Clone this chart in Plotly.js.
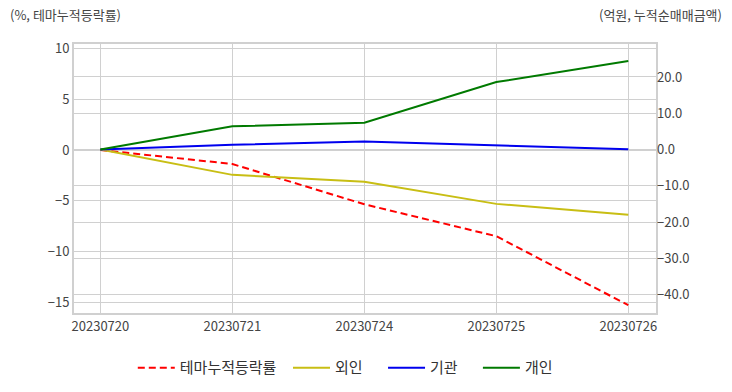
<!DOCTYPE html>
<html>
<head>
<meta charset="utf-8">
<script src="https://cdn.plot.ly/plotly-3.0.1.min.js"></script>
<style>html,body{margin:0;padding:0;background:#fff;}#chart{width:732px;height:392px;}</style>
</head>
<body>
<div id="chart"></div>
<script>
const dates = ["20230720", "20230721", "20230724", "20230725", "20230726"];
const themeReturn = [0, -1.38, -5.35, -8.5, -15.3];
const foreign = [0, -7.0, -8.9, -15.0, -18.0];
const institution = [0, 1.3, 2.2, 1.1, 0.1];
const individual = [0, 6.4, 7.4, 18.6, 24.4];
const seriesNames = ["테마누적등락률", "외인", "기관", "개인"];

const FONT = "'Noto Sans CJK KR', 'Noto Sans', sans-serif";
const traces = [
  {x: dates, y: themeReturn, name: seriesNames[0], type: "scatter", mode: "lines", yaxis: "y",
   legend: "legend", line: {color: "#ff0000", width: 2, dash: "7px,4px"}},
  {x: dates, y: foreign, name: seriesNames[1], type: "scatter", mode: "lines", yaxis: "y2",
   legend: "legend2", line: {color: "#c8be14", width: 2}},
  {x: dates, y: institution, name: seriesNames[2], type: "scatter", mode: "lines", yaxis: "y2",
   legend: "legend3", line: {color: "#0000ee", width: 2}},
  {x: dates, y: individual, name: seriesNames[3], type: "scatter", mode: "lines", yaxis: "y2",
   legend: "legend4", line: {color: "#007a00", width: 2}}
];
const gridC = "#d0d0d0";
function leg(x) {
  return {orientation: "h", x: x, xref: "paper", xanchor: "left", y: -0.204, yanchor: "middle",
          font: {size: 15, color: "#333"}, itemwidth: 37, bgcolor: "rgba(0,0,0,0)"};
}
const layout = {
  width: 732, height: 392,
  margin: {l: 74, r: 76, t: 44, b: 79, autoexpand: false},
  paper_bgcolor: "#fff", plot_bgcolor: "#fff",
  font: {family: FONT, size: 13, color: "#444"},
  showlegend: true,
  legend: leg(0.101),
  legend2: leg(0.3677),
  legend3: leg(0.531),
  legend4: leg(0.694),
  xaxis: {type: "category", range: [-0.2, 4.21], showgrid: true, gridcolor: gridC, gridwidth: 1,
          showline: true, linecolor: gridC, linewidth: 2, mirror: true, ticks: "",
          tickfont: {size: 13, color: "#444"}, zeroline: false},
  yaxis: {range: [-16.07, 10.45], dtick: 5, tick0: 0, showgrid: true, gridcolor: gridC,
          showline: true, linecolor: gridC, linewidth: 2, mirror: true, zeroline: false,
          tickfont: {size: 13, color: "#444"}, ticks: ""},
  yaxis2: {overlaying: "y", side: "right", range: [-45.1, 29.1], dtick: 10, tick0: 0,
           tickformat: ".1f", showgrid: true, gridcolor: gridC, zeroline: false,
           showline: false, tickfont: {size: 13, color: "#444"}, ticks: ""},
  annotations: [
    {text: "(%, 테마누적등락률)", xref: "paper", yref: "paper", x: 0, xanchor: "left",
     y: 1, yanchor: "bottom", showarrow: false, font: {size: 13, color: "#444"}, xshift: -66, yshift: 18},
    {text: "(억원, 누적순매매금액)", xref: "paper", yref: "paper", x: 1, xanchor: "right",
     y: 1, yanchor: "bottom", showarrow: false, font: {size: 13, color: "#444"}, xshift: 68, yshift: 18}
  ]
};
Plotly.newPlot("chart", traces, layout, {displayModeBar: false, staticPlot: true});
</script>
</body>
</html>
